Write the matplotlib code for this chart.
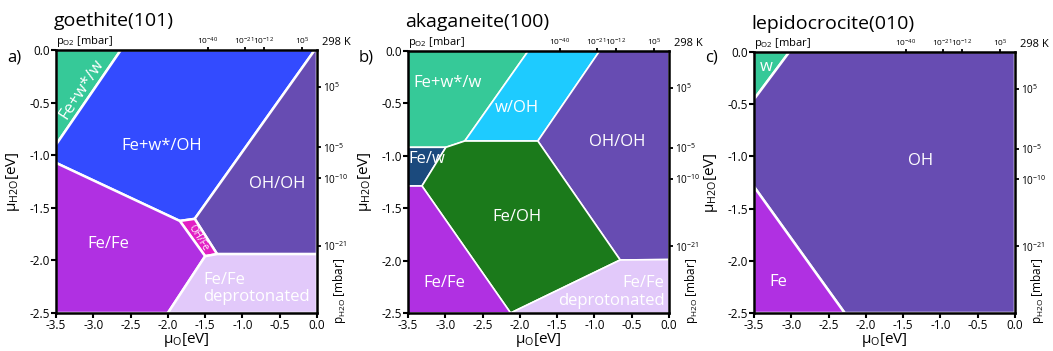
import matplotlib
matplotlib.use("Agg")
import matplotlib.pyplot as plt
from matplotlib.patches import Polygon

plt.rcParams["font.family"] = ["Open Sans", "DejaVu Sans"]
plt.rcParams["mathtext.fontset"] = "custom"
plt.rcParams["mathtext.rm"] = "Open Sans"
plt.rcParams["mathtext.it"] = "Open Sans:italic"
plt.rcParams["axes.unicode_minus"] = False

# phase regions, (mu_O, mu_H2O) vertices in eV
# goethite(101)
GOE_FEW_W = [(-3.5, 0.0), (-2.63, 0.0), (-3.5, -0.9)]
GOE_FEW_OH = [(-2.63, 0.0), (-0.03, 0.0), (-1.64, -1.605), (-1.84, -1.625),
              (-3.5, -1.073), (-3.5, -0.9)]
GOE_OH_OH = [(-0.03, 0.0), (0.0, 0.0), (0.0, -1.94), (-1.34, -1.94), (-1.64, -1.605)]
GOE_OH_FE = [(-1.84, -1.625), (-1.64, -1.605), (-1.34, -1.94), (-1.50, -1.96)]
GOE_FE_FE = [(-3.5, -1.073), (-1.84, -1.625), (-1.50, -1.96), (-2.0, -2.5), (-3.5, -2.5)]
GOE_DEPROT = [(-1.50, -1.96), (-1.34, -1.94), (0.0, -1.94), (0.0, -2.5), (-2.0, -2.5)]

# akaganeite(100)
AKA_FEW_W = [(-3.5, 0.0), (-1.888, 0.0), (-2.739, -0.859), (-2.992, -0.919), (-3.5, -0.919)]
AKA_W_OH = [(-1.888, 0.0), (-0.931, 0.0), (-1.759, -0.859), (-2.739, -0.859)]
AKA_OH_OH = [(-0.931, 0.0), (0.0, 0.0), (0.0, -1.99), (-0.655, -1.994), (-1.759, -0.859)]
AKA_FE_W = [(-3.5, -0.919), (-2.992, -0.919), (-3.313, -1.288), (-3.5, -1.288)]
AKA_FE_OH = [(-2.992, -0.919), (-2.739, -0.859), (-1.759, -0.859), (-0.655, -1.994),
             (-2.124, -2.5), (-3.313, -1.288)]
AKA_FE_FE = [(-3.5, -1.288), (-3.313, -1.288), (-2.124, -2.5), (-3.5, -2.5)]
AKA_DEPROT = [(-0.655, -1.994), (0.0, -1.99), (0.0, -2.5), (-2.124, -2.5)]

# lepidocrocite(010)
LEP_W = [(-3.5, 0.0), (-3.027, 0.0), (-3.5, -0.453)]
LEP_OH = [(-3.027, 0.0), (0.0, 0.0), (0.0, -2.5), (-2.284, -2.5), (-3.5, -1.29), (-3.5, -0.453)]
LEP_FE = [(-3.5, -1.29), (-2.284, -2.5), (-3.5, -2.5)]

# pressure scales
PO2_POS = [-1.46, -0.97, -0.715, -0.20]
PO2_LABELS = ["10$^{-40}$", "10$^{-21}$", "10$^{-12}$", "10$^{5}$"]
PH2O_POS = [-0.35, -0.925, -1.22, -1.862]
PH2O_LABELS = ["10$^{5}$", "10$^{-5}$", "10$^{-10}$", "10$^{-21}$"]

GREEN = "#36c998"
BLUE = "#334bff"
PURPLE = "#674cb2"
FE_PURPLE = "#b030e2"
MAGENTA = "#e21fc4"
LAVENDER = "#e2c9fa"
SKY = "#1ecbff"
DKGREEN = "#1b7a1b"
NAVY = "#1b4a7d"

panels = [
    ("goethite(101)", "a)", 1.8, [
        (GOE_FEW_W, GREEN), (GOE_FEW_OH, BLUE), (GOE_OH_OH, PURPLE),
        (GOE_OH_FE, MAGENTA), (GOE_FE_FE, FE_PURPLE), (GOE_DEPROT, LAVENDER)],
     [("Fe+w*/w", -3.16, -0.37, 57, "center", 12),
      ("Fe+w*/OH", -2.08, -0.915, 0, "center", 12),
      ("OH/OH", -0.54, -1.276, 0, "center", 12),
      ("Fe/Fe", -2.80, -1.84, 0, "center", 12),
      ("OH/Fe", -1.59, -1.785, -58, "center", 7),
      ("Fe/Fe\ndeprotonated", -1.53, -2.27, 0, "left", 12)]),
    ("akaganeite(100)", "b)", 1.2, [
        (AKA_FEW_W, GREEN), (AKA_W_OH, SKY), (AKA_OH_OH, PURPLE),
        (AKA_FE_W, NAVY), (AKA_FE_OH, DKGREEN), (AKA_FE_FE, FE_PURPLE),
        (AKA_DEPROT, LAVENDER)],
     [("Fe+w*/w", -2.97, -0.31, 0, "center", 12),
      ("w/OH", -2.035, -0.547, 0, "center", 12),
      ("OH/OH", -0.70, -0.866, 0, "center", 12),
      ("Fe/w", -3.25, -1.033, 0, "center", 12),
      ("Fe/OH", -2.035, -1.58, 0, "center", 12),
      ("Fe/Fe", -3.015, -2.217, 0, "center", 12),
      ("Fe/Fe\ndeprotonated", -0.06, -2.30, 0, "right", 12)]),
    ("lepidocrocite(010)", "c)", 1.8, [
        (LEP_W, GREEN), (LEP_OH, PURPLE), (LEP_FE, FE_PURPLE)],
     [("w", -3.33, -0.14, 0, "center", 12),
      ("OH", -1.27, -1.042, 0, "center", 12),
      ("Fe", -3.18, -2.2, 0, "center", 12)]),
]

lefts = [56, 408, 754]
tops = [50, 51, 52]

fig = plt.figure(figsize=(10.53, 3.51), dpi=100)

for (title, tag, lw, regions, labels), left, top in zip(panels, lefts, tops):
    ax = fig.add_axes([left / 1053, 38 / 351, 261 / 1053, (313 - top) / 351])
    for verts, color in regions:
        ax.add_patch(Polygon(verts, closed=True, facecolor=color, edgecolor="white",
                             linewidth=lw, joinstyle="miter"))
    for text, x, y, rot, ha, size in labels:
        ax.text(x, y, text, color="white", fontsize=size, rotation=rot,
                ha=ha, va="center", linespacing=1.1, rotation_mode="anchor")

    ax.set_xlim(-3.5, 0.0)
    ax.set_ylim(-2.5, 0.0)
    ax.set_xticks([-3.5, -3.0, -2.5, -2.0, -1.5, -1.0, -0.5, 0.0])
    ax.set_yticks([0.0, -0.5, -1.0, -1.5, -2.0, -2.5])
    ax.set_xticklabels(["-3.5", "-3.0", "-2.5", "-2.0", "-1.5", "-1.0", "-0.5", "0.0"])
    ax.set_yticklabels(["0.0", "-0.5", "-1.0", "-1.5", "-2.0", "-2.5"])
    ax.tick_params(length=3.5, width=1.5, pad=1, labelsize=8.5)
    for sp in ax.spines.values():
        sp.set_linewidth(1.8)
        sp.set_zorder(5)

    top_ax = ax.secondary_xaxis("top")
    top_ax.set_xticks(PO2_POS, PO2_LABELS)
    top_ax.tick_params(length=2.5, width=1.3, pad=0, labelsize=6.0)
    right_ax = ax.secondary_yaxis("right")
    right_ax.set_yticks(PH2O_POS, PH2O_LABELS)
    right_ax.tick_params(length=3, width=1.3, pad=1, labelsize=7.2)

    ax.set_xlabel("μ$_{\\mathrm{O}}$[eV]", fontsize=11)
    ax.xaxis.set_label_coords(0.5, -0.07)
    ax.set_ylabel("μ$_{\\mathrm{H2O}}$[eV]", fontsize=11)
    ax.yaxis.set_label_coords(-0.13, 0.5)

    ax.text(-0.01, 1.09, title, transform=ax.transAxes, fontsize=14, va="baseline", ha="left")
    ax.text(0.0, 1.024, "p$_{\\mathrm{O2}}$ [mbar]", transform=ax.transAxes, fontsize=8,
            va="baseline", ha="left")
    ax.text(1.02, 1.02, "298 K", transform=ax.transAxes, fontsize=8, va="baseline", ha="left")
    ax.text(1.085, 0.085, "p$_{\\mathrm{H2O}}$ [mbar]", transform=ax.transAxes, fontsize=8.5,
            rotation=90, va="center", ha="center")
    fig.text((left - 42) / 1053, 1 - 57 / 351, tag, fontsize=12, ha="center", va="center")

fig.savefig("out.png", dpi=100)
